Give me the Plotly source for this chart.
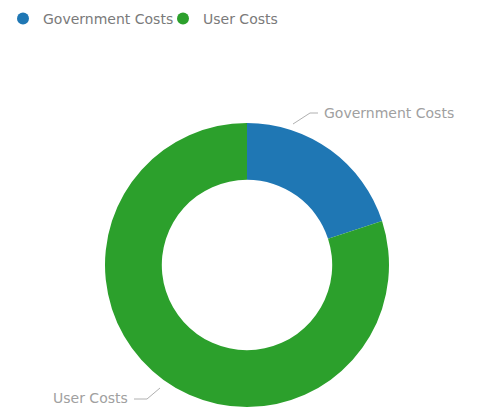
import plotly.graph_objects as go

categories = ["Government Costs", "User Costs"]
values = [20, 80]
colors = ["#1F77B4", "#2CA02C"]

W, H = 482, 410
fig = go.Figure()

fig.add_trace(go.Pie(
    labels=categories, values=values, hole=0.6, sort=False,
    direction="clockwise", rotation=0,
    marker=dict(colors=colors, line=dict(width=0)),
    textinfo="none", showlegend=False, hoverinfo="label+value",
    domain=dict(x=[105 / W, 389 / W], y=[3 / H, 287 / H]),
))

# legend entries with circle symbols
for c, col in zip(categories, colors):
    fig.add_trace(go.Scatter(x=[None], y=[None], mode="markers", name=c,
                             marker=dict(symbol="circle", size=13, color=col),
                             showlegend=True, hoverinfo="skip"))

FONT = "DejaVu Sans, sans-serif"
label_font = dict(family=FONT, size=14, color="#a0a0a0")
fig.add_annotation(x=322, y=113, text=categories[0], showarrow=False,
                   xanchor="left", yanchor="middle", font=label_font, xref="x", yref="y")
fig.add_annotation(x=130, y=398, text=categories[1], showarrow=False,
                   xanchor="right", yanchor="middle", font=label_font, xref="x", yref="y")
fig.add_shape(type="path", path="M 293 124 L 310 113 L 318 113", xref="x", yref="y",
              line=dict(color="#b0b0b0", width=1))
fig.add_shape(type="path", path="M 160 388 L 147 399 L 134 399", xref="x", yref="y",
              line=dict(color="#b0b0b0", width=1))

fig.update_layout(
    width=W, height=H, margin=dict(l=0, r=0, t=0, b=0),
    paper_bgcolor="white", plot_bgcolor="white",
    xaxis=dict(range=[0, W], visible=False, domain=[0, 1], fixedrange=True),
    yaxis=dict(range=[H, 0], visible=False, domain=[0, 1], fixedrange=True),
    legend=dict(orientation="h", x=3 / W, y=1 - 3 / H, xanchor="left", yanchor="top",
                font=dict(family=FONT, size=14, color="#7a7a7a"),
                itemsizing="constant", bgcolor="rgba(0,0,0,0)", tracegroupgap=0,
                entrywidth=115),
)

fig.write_html("out.html", config={"displayModeBar": False},
               post_script="document.body.style.margin='0';")
